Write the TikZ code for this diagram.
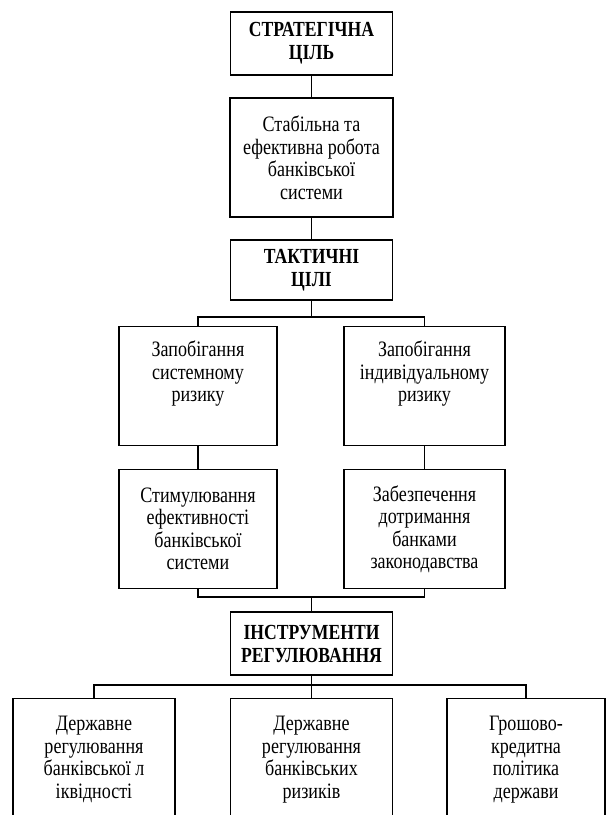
\documentclass[tikz,border=0pt]{standalone}
\usepackage{fontspec}
\setmainfont{Liberation Serif}[FakeStretch=0.82]
\usetikzlibrary{positioning}

\begin{document}
\begin{tikzpicture}[x=1pt,y=-1pt,every node/.style={shape=rectangle,draw,align=center,line width=1.3pt,inner sep=0pt,font=\fontsize{22}{22.5}\selectfont},head/.style={minimum width=162pt,minimum height=63pt,font=\fontsize{21.5}{23}\selectfont\bfseries},goal/.style={minimum width=160pt,minimum height=119pt},tool/.style={anchor=north,minimum width=162pt,minimum height=122pt},link/.style={line width=1.3pt}]
\useasboundingbox (0,0) rectangle (607,815);
\clip (0,0) rectangle (607,815);

\node [head] (strat) at (311.5,43.5) {СТРАТЕГІЧНА\\ЦІЛЬ};
\node [minimum width=163pt,minimum height=119pt] (stab) at (311.5,157.5) {Стабільна та\\ефективна робота\\банківської\\системи};
\node [head,minimum height=60pt] (takt) at (311.5,270) {ТАКТИЧНІ\\ЦІЛІ};
    \node [goal,minimum width=158pt] (sysrisk) at (198,386) {Запобігання\\системному\\ризику\\\strut};
    \node [goal,minimum width=161pt] (indrisk) at (424.5,386) {Запобігання\\індивідуальному\\ризику\\\strut};
    \node [goal,minimum width=158pt] (stim) at (198,529) {Стимулювання\\ефективності\\банківської\\системи};
    \node [goal,minimum width=161pt] (law) at (424.5,529) {Забезпечення\\дотримання\\банками\\законодавства};
\node [head] (instr) at (311.5,643.5) {ІНСТРУМЕНТИ\\РЕГУЛЮВАННЯ};
    \node [tool] (liq) at (94,698) {Державне\\регулювання\\банківської л\\іквідності};
    \node [tool] (bankrisk) at (311.5,698) {Державне\\регулювання\\банківських\\ризиків};
    \node [tool,minimum width=158pt] (monpol) at (526,698) {Грошово-\\кредитна\\політика\\держави};

\coordinate (bar1) at (311.5,317);
\coordinate (bar2) at (311.5,597);
\coordinate (bar3) at (311.5,685);

\draw[link] (strat.south) -- (stab.north);
\draw[link] (stab.south) -- (takt.north);
\draw[link] (takt.south) -- (bar1);
\draw[link] (sysrisk.north) |- (bar1) -| (indrisk.north);
\draw[link] (sysrisk.south) -- (stim.north);
\draw[link] (indrisk.south) -- (law.north);
\draw[link] (stim.south) |- (bar2) -| (law.south);
\draw[link] (bar2) -- (instr.north);
\draw[link] (instr.south) -- (bar3);
\draw[link] (liq.north) |- (bar3) -| (monpol.north);
\draw[link] (bar3) -- (bankrisk.north);

\end{tikzpicture}
\end{document}
